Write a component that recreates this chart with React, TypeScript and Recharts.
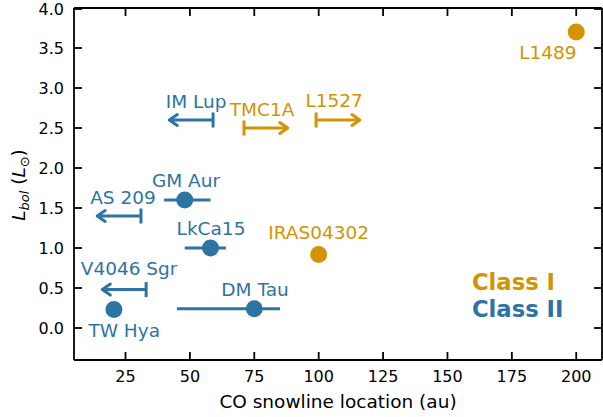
import React from 'react';
import { ScatterChart, Scatter, XAxis, YAxis, ErrorBar } from 'recharts';

// colours of the two source classes
const BLUE = '#2e74a2';
const GOLD = '#d49300';
const FONT = 'DejaVu Sans';

const xTicks = [25, 50, 75, 100, 125, 150, 175, 200];
const yTicks = [0, 0.5, 1, 1.5, 2, 2.5, 3, 3.5, 4];

// detected snowlines: x = CO snowline (au), y = L_bol (L_sun)
const classIPoints = [
  { name: 'L1489', x: 200, y: 3.7 },
  { name: 'IRAS04302', x: 100, y: 0.92 },
];
const classIIPoints = [
  { name: 'GM Aur', x: 48, y: 1.6, xErr: [8, 10] },
  { name: 'LkCa15', x: 58, y: 1.0, xErr: [10, 6] },
  { name: 'DM Tau', x: 75, y: 0.24, xErr: [30, 10] },
  { name: 'TW Hya', x: 20.5, y: 0.23, xErr: [0, 0] },
];

// limits: bar at x, arrow head at tip
const classILimits = [
  { name: 'TMC1A', x: 71, y: 2.5, tip: 88 },
  { name: 'L1527', x: 99, y: 2.6, tip: 116 },
];
const classIILimits = [
  { name: 'IM Lup', x: 59, y: 2.6, tip: 42 },
  { name: 'AS 209', x: 31, y: 1.4, tip: 14 },
  { name: 'V4046 Sgr', x: 33, y: 0.48, tip: 16 },
];

// text annotations, placed in data coordinates
const classILabels = [
  { text: 'L1489', x: 189, y: 3.45 },
  { text: 'IRAS04302', x: 100, y: 1.19 },
  { text: 'TMC1A', x: 78, y: 2.73 },
  { text: 'L1527', x: 106, y: 2.84 },
];
const classIILabels = [
  { text: 'IM Lup', x: 52.4, y: 2.83 },
  { text: 'GM Aur', x: 48.5, y: 1.84 },
  { text: 'AS 209', x: 24, y: 1.63 },
  { text: 'LkCa15', x: 58.2, y: 1.24 },
  { text: 'V4046 Sgr', x: 26.4, y: 0.75 },
  { text: 'DM Tau', x: 75.3, y: 0.48 },
  { text: 'TW Hya', x: 24.5, y: -0.03 },
];
const legendLabels = [
  { text: 'Class I', x: 159.5, y: 0.58, color: GOLD },
  { text: 'Class II', x: 159.5, y: 0.24, color: BLUE },
];

const dot = (color: string) => (p: any) => <circle cx={p.cx} cy={p.cy} r={8.5} fill={color} />;

const cap = (color: string) => (p: any) => (
  <line x1={p.cx} x2={p.cx} y1={p.cy - 7.5} y2={p.cy + 7.5} stroke={color} strokeWidth={3} />
);

const head = (color: string, dir: number) => (p: any) => (
  <polyline
    points={`${p.cx - dir * 8},${p.cy - 5.5} ${p.cx},${p.cy} ${p.cx - dir * 8},${p.cy + 5.5}`}
    fill="none"
    stroke={color}
    strokeWidth={3}
    strokeLinecap="round"
    strokeLinejoin="round"
  />
);

const label = (color: string) => (p: any) => (
  <text x={p.cx} y={p.cy} dy="0.36em" textAnchor="middle" fontSize={18.5} fontFamily={FONT} fill={color}>
    {p.payload.text}
  </text>
);

const legendLabel = (p: any) => (
  <text x={p.cx} y={p.cy} dy="0.36em" textAnchor="start" fontSize={22.7} fontWeight="bold" fontFamily={FONT} fill={p.payload.color}>
    {p.payload.text}
  </text>
);

const nothing = () => <g />;

const BottomTick = ({ x, y, payload }: any) => (
  <g>
    <line x1={x} x2={x} y1={y} y2={y - 8} stroke="#000" strokeWidth={1.8} />
    <text x={x} y={y + 22} textAnchor="middle" fontSize={16} fontFamily={FONT} fill="#000">
      {payload.value}
    </text>
  </g>
);

const LeftTick = ({ x, y, payload }: any) => (
  <g>
    <line x1={x} x2={x + 8} y1={y} y2={y} stroke="#000" strokeWidth={1.8} />
    <text x={x - 10} y={y} dy="0.36em" textAnchor="end" fontSize={16} fontFamily={FONT} fill="#000">
      {Number(payload.value).toFixed(1)}
    </text>
  </g>
);

const TopTick = ({ x, y }: any) => <line x1={x} x2={x} y1={y} y2={y + 8} stroke="#000" strokeWidth={1.8} />;
const RightTick = ({ x, y }: any) => <line x1={x} x2={x - 8} y1={y} y2={y} stroke="#000" strokeWidth={1.8} />;

const spine = { stroke: '#000', strokeWidth: 1.8 };

export default function App() {
  // arrows: shaft drawn as a one-sided x error bar from the limit to the tip
  const iLim = classILimits.map((d) => ({ ...d, shaft: [0, d.tip - d.x] }));
  const iiLim = classIILimits.map((d) => ({ ...d, shaft: [d.x - d.tip, 0] }));
  const iTips = classILimits.map((d) => ({ x: d.tip, y: d.y }));
  const iiTips = classIILimits.map((d) => ({ x: d.tip, y: d.y }));

  return (
    <div style={{ position: 'absolute', left: 0, top: 0, width: 603, height: 417, background: '#fff' }}>
      <ScatterChart width={603} height={417} margin={{ top: 7, right: 0, bottom: 0, left: 0 }} style={{ fontFamily: FONT }}>
        <XAxis
          dataKey="x"
          type="number"
          domain={[5, 210]}
          ticks={xTicks}
          allowDataOverflow
          height={57}
          tickSize={0}
          tickMargin={0}
          tickLine={false}
          tick={BottomTick}
          axisLine={spine}
        />
        <XAxis xAxisId="t" orientation="top" dataKey="x" type="number" domain={[5, 210]} ticks={xTicks} allowDataOverflow height={1} tickSize={0} tickMargin={0} tickLine={false} tick={TopTick} axisLine={spine} />
        <YAxis
          dataKey="y"
          type="number"
          domain={[-0.4, 4]}
          ticks={yTicks}
          allowDataOverflow
          width={74}
          tickSize={0}
          tickMargin={0}
          tickLine={false}
          tick={LeftTick}
          axisLine={spine}
        />
        <YAxis yAxisId="r" orientation="right" dataKey="y" type="number" domain={[-0.4, 4]} ticks={yTicks} allowDataOverflow width={1} tickSize={0} tickMargin={0} tickLine={false} tick={RightTick} axisLine={spine} />
        <Scatter xAxisId="t" yAxisId="r" data={classIPoints} shape={nothing} isAnimationActive={false} />

        <Scatter data={iLim} shape={cap(GOLD)} isAnimationActive={false}>
          <ErrorBar dataKey="shaft" direction="x" width={0} stroke={GOLD} strokeWidth={3} isAnimationActive={false} />
        </Scatter>
        <Scatter data={iiLim} shape={cap(BLUE)} isAnimationActive={false}>
          <ErrorBar dataKey="shaft" direction="x" width={0} stroke={BLUE} strokeWidth={3} isAnimationActive={false} />
        </Scatter>
        <Scatter data={iTips} shape={head(GOLD, 1)} isAnimationActive={false} />
        <Scatter data={iiTips} shape={head(BLUE, -1)} isAnimationActive={false} />

        <Scatter data={classIIPoints} shape={dot(BLUE)} isAnimationActive={false}>
          <ErrorBar dataKey="xErr" direction="x" width={0} stroke={BLUE} strokeWidth={3} isAnimationActive={false} />
        </Scatter>
        <Scatter data={classIPoints} shape={dot(GOLD)} isAnimationActive={false} />

        <Scatter data={classILabels} shape={label(GOLD)} isAnimationActive={false} />
        <Scatter data={classIILabels} shape={label(BLUE)} isAnimationActive={false} />
        <Scatter data={legendLabels} shape={legendLabel} isAnimationActive={false} />
      </ScatterChart>

      <svg width={603} height={417} style={{ position: 'absolute', left: 0, top: 0, pointerEvents: 'none' }}>
        <text x={338} y={408} textAnchor="middle" fontSize={18.5} fontFamily={FONT} fill="#000">
          CO snowline location (au)
        </text>
        <text x={25} y={185} textAnchor="middle" fontSize={18.5} fontFamily={FONT} fill="#000" transform="rotate(-90, 25, 185)">
          <tspan fontStyle="italic">L</tspan>
          <tspan fontStyle="italic" fontSize={13} dy={4}>bol</tspan>
          <tspan dy={-4}> (</tspan>
          <tspan fontStyle="italic">L</tspan>
          <tspan fontSize={13} dy={4}>⊙</tspan>
          <tspan dy={-4}>)</tspan>
        </text>
      </svg>
    </div>
  );
}
